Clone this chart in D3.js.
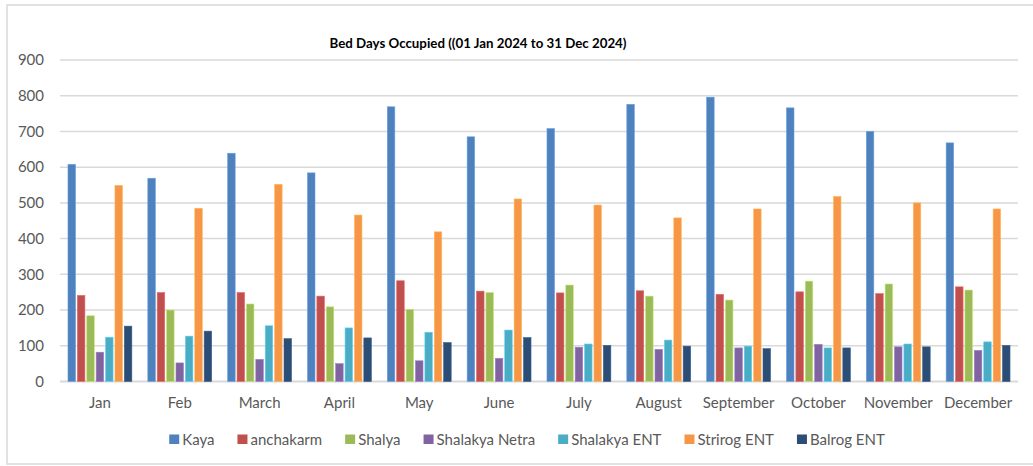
<!DOCTYPE html>
<html>
<head>
<meta charset="utf-8">
<script src="https://cdn.jsdelivr.net/npm/d3@7/dist/d3.min.js"></script>
<style>
  html, body { margin: 0; padding: 0; background: #fff; }
  svg { display: block; }
  text { font-family: Lato, "Open Sans", "Noto Sans", sans-serif; }
</style>
</head>
<body>
<svg id="chart" width="1033" height="466"></svg>
<script>
const months = ["Jan","Feb","March","April","May","June","July","August","September","October","November","December"];
const seriesNames = ["Kaya","anchakarm","Shalya","Shalakya Netra","Shalakya ENT","Strirog ENT","Balrog ENT"];
const kaya        = [608, 569, 639, 584, 769, 685, 708, 776, 796, 766, 700, 668];
const anchakarm   = [241, 249, 249, 239, 282, 253, 248, 254, 244, 251, 246, 265];
const shalya      = [184, 200, 217, 209, 202, 249, 270, 239, 228, 281, 273, 256];
const shalakyaNetra = [82, 52, 62, 50, 58, 65, 96, 90, 94, 104, 97, 87];
const shalakyaENT = [124, 127, 156, 150, 138, 144, 105, 116, 99, 94, 105, 111];
const strirogENT  = [549, 485, 552, 466, 419, 511, 494, 458, 483, 518, 500, 483];
const balrogENT   = [155, 141, 120, 122, 109, 123, 101, 99, 92, 94, 97, 101];
const yTicks = [0, 100, 200, 300, 400, 500, 600, 700, 800, 900];
const title = "Bed Days Occupied ((01 Jan 2024 to 31 Dec 2024)";

const seriesValues = [kaya, anchakarm, shalya, shalakyaNetra, shalakyaENT, strirogENT, balrogENT];
const colors = ["#4F81BD","#C0504D","#9BBB59","#8064A2","#4BACC6","#F79646","#2C4D75"];

const svg = d3.select("#chart");
const plot = {left: 60, right: 1018, top: 60, bottom: 381.5};

// outer border
svg.append("rect").attr("x", 7).attr("y", 5).attr("width", 1040).attr("height", 459)
  .attr("fill", "none").attr("stroke", "#d9d9d9").attr("stroke-width", 1.5);

const x0 = d3.scaleBand().domain(months).range([plot.left, plot.right]).paddingInner(0.2).paddingOuter(0.1);
const x1 = d3.scaleBand().domain(seriesNames).range([0, x0.bandwidth()]).paddingInner(0.2);
const y = d3.scaleLinear().domain([0, 900]).range([plot.bottom, plot.top]);

// gridlines
svg.append("g").selectAll("line").data(yTicks).join("line")
  .attr("x1", plot.left).attr("x2", plot.right)
  .attr("y1", d => y(d)).attr("y2", d => y(d))
  .attr("stroke", "#d9d9d9").attr("stroke-width", d => d === 0 ? 2 : 1.5);

// y axis labels
const yAxis = d3.axisLeft(y).tickValues(yTicks).tickSize(0).tickPadding(0);
const ya = svg.append("g").attr("transform", `translate(${44},0)`).call(yAxis);
ya.select(".domain").remove();
ya.selectAll("text").attr("fill", "#595959").style("font-size", "15px")
  .style("font-family", "Lato, 'Open Sans', sans-serif");

// x axis labels
const xAxis = d3.axisBottom(x0).tickSize(0).tickPadding(0);
const xa = svg.append("g").attr("transform", `translate(0,${397.5})`).call(xAxis);
xa.select(".domain").remove();
xa.selectAll("text").attr("fill", "#595959").style("font-size", "15px")
  .style("font-family", "Lato, 'Open Sans', sans-serif").attr("dy", "0.71em");

// bars
const groups = svg.append("g").selectAll("g").data(months).join("g")
  .attr("transform", d => `translate(${x0(d)},0)`);
groups.selectAll("rect").data((m, i) => seriesNames.map((s, j) => ({s, v: seriesValues[j][i], c: colors[j]})))
  .join("rect")
  .attr("x", d => x1(d.s))
  .attr("width", x1.bandwidth())
  .attr("y", d => y(d.v))
  .attr("height", d => y(0) - y(d.v))
  .attr("fill", d => d.c)
  .attr("stroke", d => d3.color(d.c).brighter(0.6))
  .attr("stroke-width", 0.6);

// title
svg.append("text").attr("x", 478).attr("y", 47.5).attr("text-anchor", "middle")
  .style("font-size", "13.3px").style("font-weight", "bold").attr("fill", "#000").text(title);

// legend
const leg = svg.append("g");
let cx = 0;
seriesNames.forEach((s, j) => {
  const g = leg.append("g");
  g.append("rect").attr("x", 0).attr("y", -5).attr("width", 10).attr("height", 9.5).attr("fill", colors[j]);
  const t = g.append("text").attr("x", 13).attr("y", 0).attr("dy", "0.35em")
    .attr("fill", "#595959").style("font-size", "15px").text(s);
  const w = 13 + t.node().getComputedTextLength();
  g.attr("transform", `translate(${cx},${439.5})`);
  cx += w + 23;
});
const totalW = cx - 23;
leg.attr("transform", `translate(${527 - totalW/2},0)`);
</script>
</body>
</html>
